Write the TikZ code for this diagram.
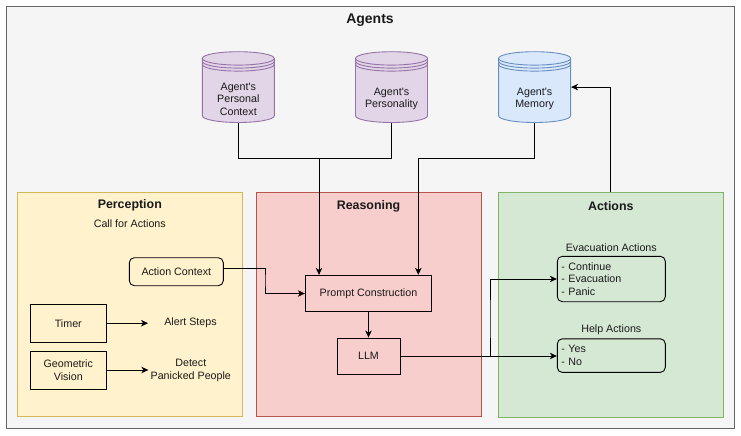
\documentclass[tikz,border=0pt]{standalone}
\usepackage{fontspec}
\setmainfont{Liberation Sans}
\usetikzlibrary{arrows.meta,calc}
\definecolor{outerfill}{HTML}{F5F5F5}
\definecolor{outerdraw}{HTML}{666666}
\definecolor{percfill}{HTML}{FFF2CC}
\definecolor{percdraw}{HTML}{D6B656}
\definecolor{reasfill}{HTML}{F8CECC}
\definecolor{reasdraw}{HTML}{B85450}
\definecolor{actfill}{HTML}{D5E8D4}
\definecolor{actdraw}{HTML}{82B366}
\definecolor{purfill}{HTML}{E1D5E7}
\definecolor{purdraw}{HTML}{9673A6}
\definecolor{blufill}{HTML}{DAE8FC}
\definecolor{bludraw}{HTML}{6C8EBF}
\definecolor{txt}{HTML}{1A1A1A}
\newcommand\dbshape[3]{%
  \path[fill=#2,draw=#3] ({#1-36},58.4) -- ({#1-36},115.8)
    arc[start angle=180,end angle=360,x radius=36pt,y radius=6.7pt]
    -- ({#1+36},58.4)
    arc[start angle=0,end angle=180,x radius=36pt,y radius=6.7pt] -- cycle;
  \draw[#3] ({#1-36},58.4) arc[start angle=180,end angle=360,x radius=36pt,y radius=6.7pt];
  \draw[#3] ({#1-36},61.4) arc[start angle=180,end angle=360,x radius=36pt,y radius=6.7pt];
  \draw[#3] ({#1-36},64.4) arc[start angle=180,end angle=360,x radius=36pt,y radius=6.7pt];
}
\begin{document}
\begin{tikzpicture}[x=1pt,y=-1pt,
  font=\fontsize{10.7}{12.5}\selectfont, text=txt, line width=0.9pt,
  arr/.style={-{Stealth[length=7pt,width=6.5pt,inset=2pt]}},
  panel/.style={inner sep=0pt},
  ttl/.style={font=\fontsize{12.4}{14}\selectfont\bfseries},
  box/.style={draw=black, inner sep=0pt, align=center},
  rbox/.style={draw=black, rounded corners=5pt, inner sep=0pt},
  lst/.style={draw=black, rounded corners=5pt, inner sep=4pt, text width=100pt, align=left},
  hidden/.style={inner sep=0pt}]
\useasboundingbox (0,0) rectangle (741,436);
\fill[white] (0,0) rectangle (741,436);

% outer
\node[panel, draw=outerdraw, fill=outerfill, minimum width=727.8pt, minimum height=422.3pt] (agents) at (370.4,217.15) {};
\node[ttl, font=\fontsize{14}{16}\selectfont\bfseries] (agtitle) at (370,20) {Agents};

% panels
\node[panel, draw=percdraw, fill=percfill, minimum width=225pt, minimum height=224.4pt] (perc) at (129.8,304.5) {};
\node[panel, draw=reasdraw, fill=reasfill, minimum width=224.3pt, minimum height=224pt] (reas) at (368.85,304) {};
\node[panel, draw=actdraw, fill=actfill, minimum width=225pt, minimum height=225pt] (act) at (610.8,304.5) {};
\node[ttl] (perctitle) at (129.8,205.7) {Perception};
\node[ttl] (reastitle) at (368.5,206) {Reasoning};
\node[ttl] (acttitle) at (610.8,205.7) {Actions};

% cylinders
\dbshape{238.3}{purfill}{purdraw}
\dbshape{391.5}{purfill}{purdraw}
\dbshape{534.6}{blufill}{bludraw}
\node[hidden, minimum width=72pt, minimum height=70.8pt] (pc) at (238.3,87.1) {};
\node[hidden, minimum width=72pt, minimum height=70.8pt] (ps) at (391.5,87.1) {};
\node[hidden, minimum width=72pt, minimum height=70.8pt] (mem) at (534.6,87.1) {};
\node[align=center] (pctext) at (238.3,99.3) {Agent\textquotesingle s\\Personal\\Context};
\node[align=center] (pstext) at (391.5,98.7) {Agent\textquotesingle s\\Personality};
\node[align=center] (memtext) at (534.6,98.7) {Agent\textquotesingle s\\Memory};

% perception content
\node (call) at (129.8,224) {Call for Actions};
\node[rbox, minimum width=94pt, minimum height=28pt] (ac) at (176.3,271.7) {Action Context};
\node[box, minimum width=76.7pt, minimum height=37.7pt] (tm) at (68.3,323.2) {Timer};
\node[box, minimum width=76.7pt, minimum height=38pt] (gv) at (68.3,370) {Geometric\\Vision};
\node[hidden, minimum width=84pt] (al) at (190.5,323.2) {Alert Steps};
\node[hidden, minimum width=84pt, align=center] (dp) at (190.8,370.3) {Detect\\Panicked People};

% reasoning content
\node[box, minimum width=126.4pt, minimum height=36.4pt] (pr) at (368.5,293.5) {Prompt Construction};
\node[box, minimum width=63pt, minimum height=36pt] (llm) at (368.5,356) {LLM};

% actions content
\node (evt) at (611.3,247.3) {Evacuation Actions};
\node[lst, minimum height=45.4pt] (ev) at (611.3,279) {- Continue\\- Evacuation\\- Panic};
\node (hpt) at (611.3,329.3) {Help Actions};
\node[lst, minimum height=33.6pt] (hp) at (611.3,355.6) {- Yes\\- No};

% connectors
\coordinate (j1) at (319,158.3);
\coordinate (j2) at (418.3,158.3);
\coordinate (j3) at (265,280);
\coordinate (j4) at (490,320);
\draw[arr] (pc.south) |- (j1) -- (j1 |- pr.north);
\draw (ps.south) |- (j1);
\draw[arr] (mem.south) |- (j2) -- (j2 |- pr.north);
\draw[arr] ([yshift=3.4pt]ac.east) -| (j3) |- (pr.west);
\draw[arr] (pr.south) -- (llm.north);
\draw[arr] (llm.east) -| (j4) |- (ev.west);
\draw[arr] (llm.east) -- (llm.east -| hp.west);
\draw[arr] (act.north) |- (mem.east);
\draw[arr] (tm.east) -- (tm.east -| al.west);
\draw[arr] (gv.east) -- (gv.east -| dp.west);
\end{tikzpicture}
\end{document}
